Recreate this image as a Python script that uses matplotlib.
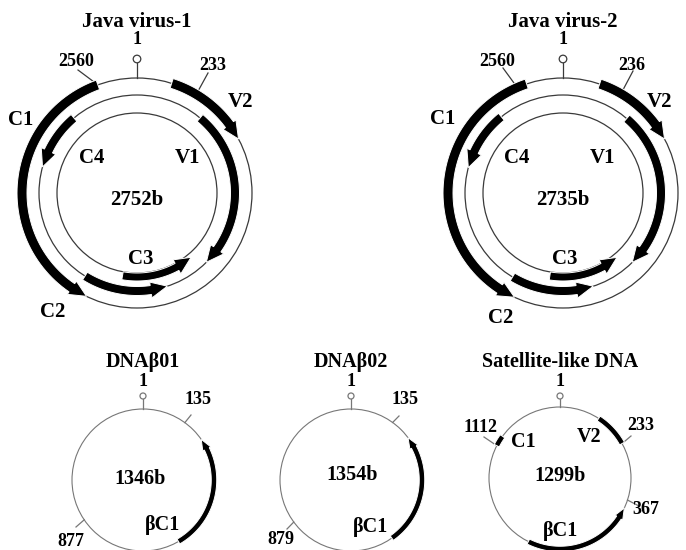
import numpy as np
import matplotlib.pyplot as plt
from matplotlib.patches import Polygon, Circle

plt.rcParams['font.family'] = ['Liberation Serif', 'DejaVu Serif']
plt.rcParams['font.weight'] = 'bold'

# ---- data: genome sizes and ORF positions (nt) ----
genome_names = ['Java virus-1', 'Java virus-2', 'DNAβ01', 'DNAβ02', 'Satellite-like DNA']
genome_sizes = [2752, 2735, 1346, 1354, 1299]

java_genes = ['V2', 'V1', 'C1', 'C4', 'C2', 'C3']
java_rings = [0, 1, 0, 1, 1, 2]
java1_start = [134, 306, 2600, 2446, 1621, 1452]
java1_end = [474, 1032, 1575, 2182, 1238, 1070]
java2_start = [141, 308, 2595, 2439, 1603, 1436]
java2_end = [471, 1026, 1557, 2165, 1231, 1064]

dnab01_start = [561]
dnab01_end = [206]
dnab02_start = [545]
dnab02_end = [201]

sat_genes = ['V2', 'C1', 'βC1']
sat_start = [119, 1072, 745]
sat_end = [220, 1104, 415]
sat_heads = [False, False, True]

java1_marks = ['2560', '233']
java1_mark_nt = [2600, 237]
java2_marks = ['2560', '236']
java2_mark_nt = [2557, 230]
dnab01_marks = ['135', '877']
dnab01_mark_nt = [135, 882]
dnab02_marks = ['135', '879']
dnab02_mark_nt = [135, 879]
sat_marks = ['1112', '233', '367']
sat_mark_nt = [1072, 220, 390]


def arc_xy(cx, cy, r, angs):
    # angles in degrees, clockwise from 12 o'clock, y axis pointing down
    t = np.radians(angs)
    return cx + r * np.sin(t), cy - r * np.cos(t)


def nt2deg(nt, size):
    return np.asarray(nt) / size * 360.0


def draw_gene(ax, cx, cy, r, a0, a1, w, hl, hw, head=True):
    d = 1 if a1 > a0 else -1
    span = np.degrees(hl / r) if head else 0
    ab = a1 - d * span
    angs = np.linspace(a0, ab, 60)
    xo, yo = arc_xy(cx, cy, r + w / 2, angs)
    xi, yi = arc_xy(cx, cy, r - w / 2, angs[::-1])
    pts = list(zip(xo, yo))
    if head:
        hx, hy = arc_xy(cx, cy, np.array([r + hw / 2, r, r - hw / 2]), np.array([ab, a1, ab]))
        pts += list(zip(hx, hy))
    pts += list(zip(xi, yi))
    ax.add_patch(Polygon(pts, closed=True, fc='black', ec='white', lw=0.7, zorder=3))


def origin_mark(ax, cx, top, y_circ, y_txt, rc, fs, col):
    ax.plot([cx, cx], [y_circ + rc, top], color=col, lw=0.9, zorder=2)
    ax.add_patch(Circle((cx, y_circ), rc, fc='white', ec=col, lw=0.9, zorder=3))
    ax.text(cx, y_txt, '1', ha='center', va='center', fontsize=fs)


def marks(ax, cx, cy, r, size, labels, nts, ends, txt_pos, fs, col):
    for lab, nt, e, tp in zip(labels, nts, ends, txt_pos):
        px, py = arc_xy(cx, cy, r, nt2deg(nt, size))
        ax.plot([px, e[0]], [py, e[1]], color=col, lw=0.9, zorder=2)
        ax.text(tp[0], tp[1], lab, ha='center', va='center', fontsize=fs)


fig = plt.figure(figsize=(6.86, 5.5), dpi=100)
ax = fig.add_axes([0, 0, 1, 1])
ax.set_xlim(0, 686)
ax.set_ylim(550, 0)
ax.axis('off')

# ---- Java viruses (three rings) ----
ring_r = [115, 98, 80]
gene_r = [115, 98, 84]
gene_w = [10, 9, 8]
java_sets = [
    (137, 193, genome_sizes[0], java1_start, java1_end, java1_marks, java1_mark_nt,
     [(78, 70), (208, 73)], [(76, 61), (213, 66)],
     {'V2': (241, 102), 'C1': (21, 120), 'C4': (92, 158), 'V1': (188, 158),
      'C3': (141, 259), 'C2': (53, 312)}, '2752b', genome_names[0]),
    (563, 193, genome_sizes[1], java2_start, java2_end, java2_marks, java2_mark_nt,
     [(503, 68), (633, 71)], [(497, 61), (632, 65)],
     {'V2': (660, 102), 'C1': (443, 119), 'C4': (517, 158), 'V1': (603, 158),
      'C3': (565, 259), 'C2': (501, 318)}, '2735b', genome_names[1]),
]
for cx, cy, size, st, en, mlab, mnt, mend, mtxt, gpos, blab, title in java_sets:
    for rr in ring_r:
        ax.add_patch(Circle((cx, cy), rr, fill=False, ec='#3a3a3a', lw=0.9, zorder=1))
    a0 = nt2deg(st, size)
    a1 = nt2deg(en, size)
    for g, ring, s, e in zip(java_genes, java_rings, a0, a1):
        draw_gene(ax, cx, cy, gene_r[ring], s, e, gene_w[ring], 17, 16)
        ax.text(gpos[g][0], gpos[g][1], g, ha='center', va='center', fontsize=15)
    origin_mark(ax, cx, cy - ring_r[0], 59, 40, 3.8, 13, '#3a3a3a')
    marks(ax, cx, cy, ring_r[0], size, mlab, mnt, mend, mtxt, 13, '#3a3a3a')
    ax.text(cx, cy + 7, blab, ha='center', va='center', fontsize=15)
    ax.text(cx, 22, title, ha='center', va='center', fontsize=15)

# ---- satellites (single ring) ----
small_sets = [
    (143, 480, genome_sizes[2], dnab01_start, dnab01_end, ['βC1'], [True],
     {'βC1': (162, 525)}, dnab01_marks, dnab01_mark_nt,
     [(191, 415), (76, 527)], [(198, 399), (71, 542)], '1346b', (140, 479), genome_names[2]),
    (351, 480, genome_sizes[3], dnab02_start, dnab02_end, ['βC1'], [True],
     {'βC1': (371, 527)}, dnab02_marks, dnab02_mark_nt,
     [(399, 416), (287, 529)], [(405, 399), (281, 539)], '1354b', (352, 475), genome_names[3]),
    (560, 478, genome_sizes[4], sat_start, sat_end, sat_genes, sat_heads,
     {'V2': (589, 437), 'C1': (523, 442), 'βC1': (561, 531)}, sat_marks, sat_mark_nt,
     [(484, 437), (631, 436), (639, 506)], [(481, 428), (641, 425), (646, 510)],
     '1299b', (560, 476), genome_names[4]),
]
for cx, cy, size, st, en, gl, heads, gpos, mlab, mnt, mend, mtxt, blab, bpos, title in small_sets:
    r = 71
    ax.add_patch(Circle((cx, cy), r, fill=False, ec='#777777', lw=0.8, zorder=1))
    a0 = nt2deg(st, size)
    a1 = nt2deg(en, size)
    for g, s, e, h in zip(gl, a0, a1, heads):
        draw_gene(ax, cx, cy, r, s, e, 5.5, 11, 9, head=h)
        ax.text(gpos[g][0], gpos[g][1], g, ha='center', va='center', fontsize=14.5)
    origin_mark(ax, cx, cy - r, 396, 381, 3, 13, '#777777')
    marks(ax, cx, cy, r, size, mlab, mnt, mend, mtxt, 13, '#777777')
    ax.text(bpos[0], bpos[1], blab, ha='center', va='center', fontsize=14.5)
    ax.text(cx, 362, title, ha='center', va='center', fontsize=14.5)

fig.savefig('out.png', dpi=100)
